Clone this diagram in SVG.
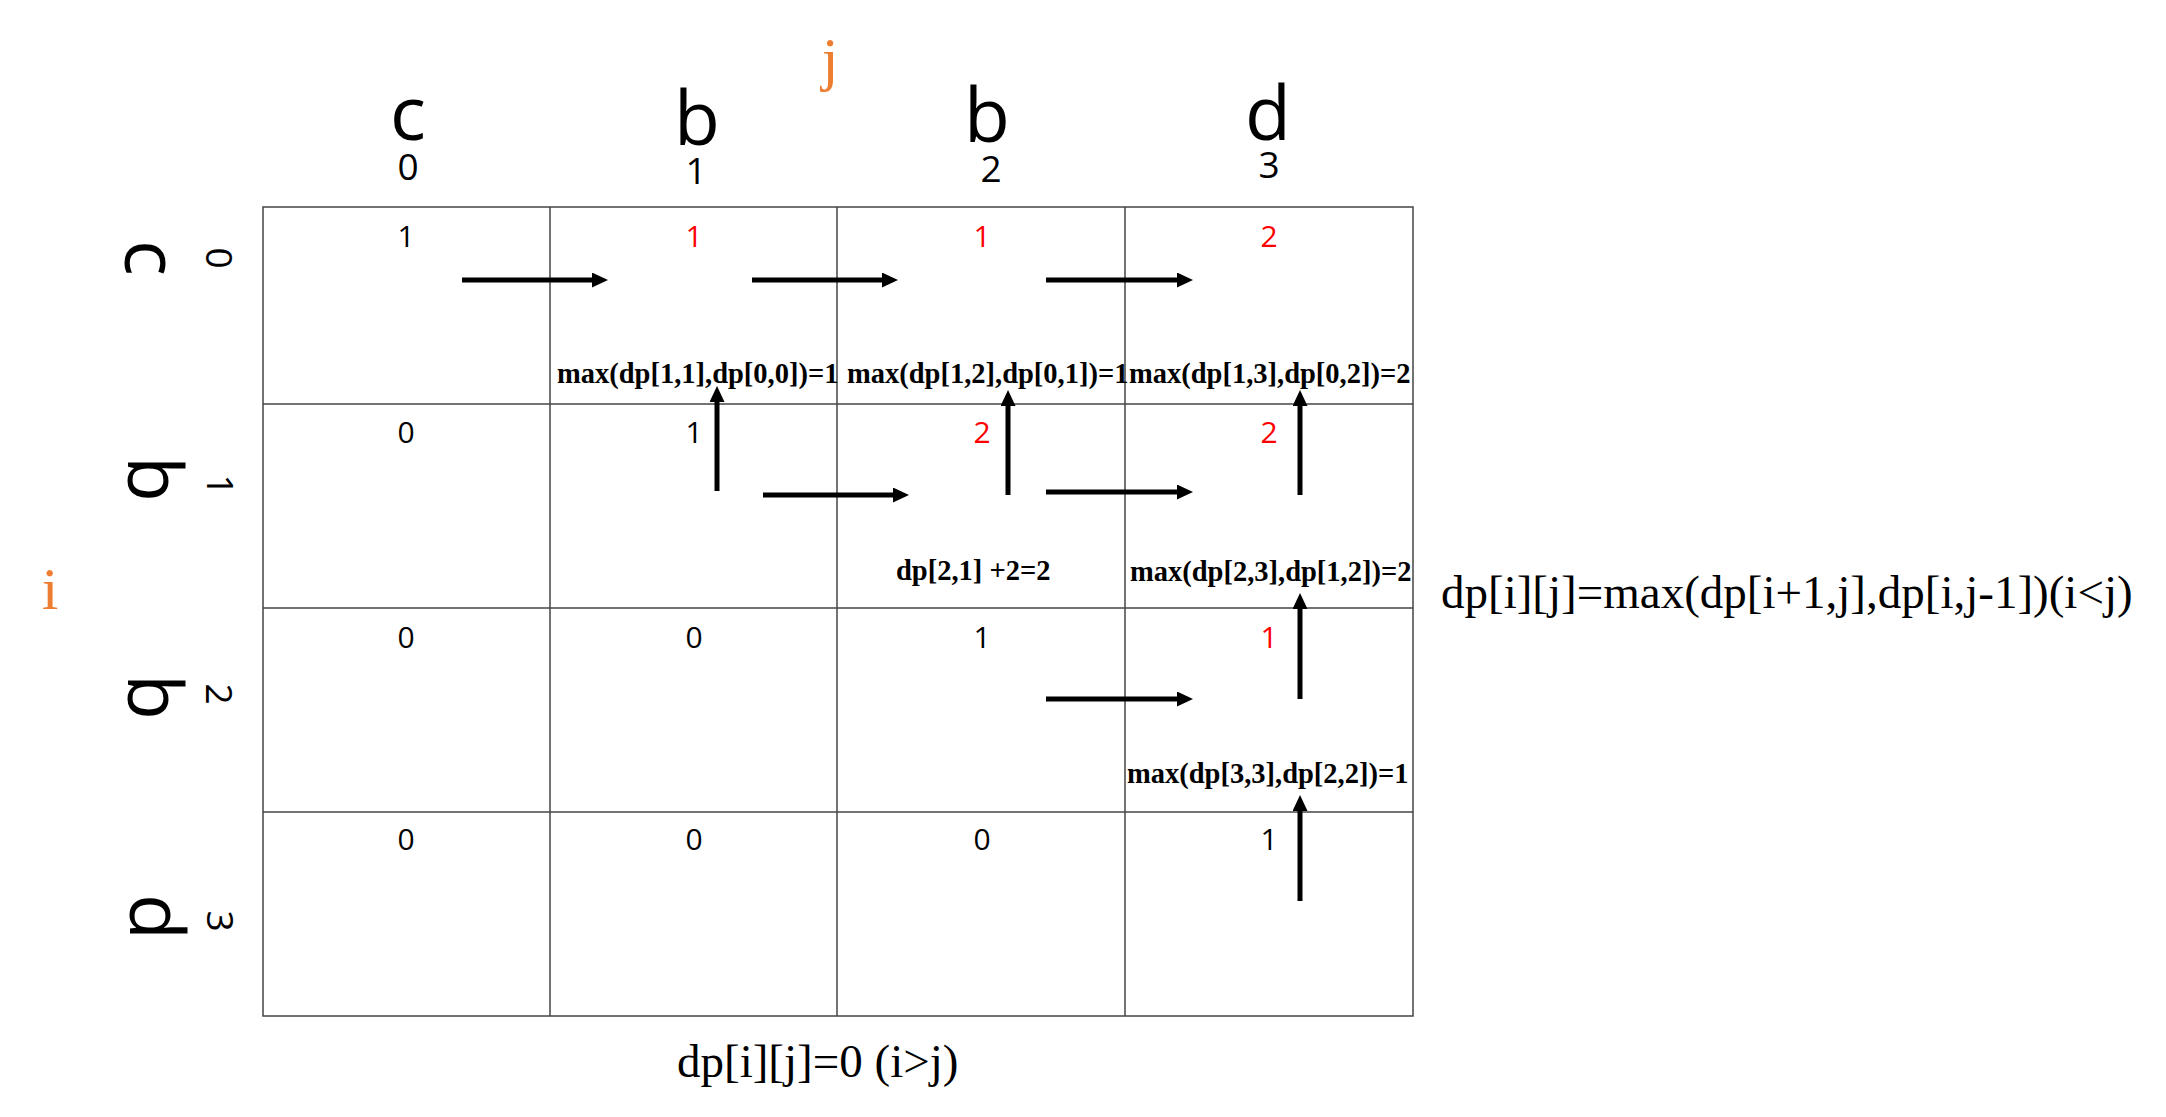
<svg xmlns="http://www.w3.org/2000/svg" width="2166" height="1117" viewBox="0 0 2166 1117">
<style>
.grid{stroke:#444;stroke-width:1.5;fill:none}
.hdr{font-family:"Open Sans","Noto Sans",sans-serif;font-size:75px;fill:#000;text-anchor:middle}
.idx{font-family:"Open Sans","Noto Sans",sans-serif;font-size:37px;fill:#000;text-anchor:middle}
.val{font-family:"Open Sans","Noto Sans",sans-serif;font-size:30px;fill:#000;text-anchor:middle}
.red{fill:#FF0000}
.axis{font-family:"Liberation Serif","Times New Roman",serif;font-size:60px;fill:#ED7D31;text-anchor:middle}
.lbl{font-family:"Liberation Serif","Times New Roman",serif;font-size:28.5px;font-weight:bold;fill:#000}
.eq{font-family:"Liberation Serif","Times New Roman",serif;font-size:47px;fill:#000}
.arr{stroke:#000;stroke-width:5;fill:none;marker-end:url(#ah)}
</style>
<defs>
<marker id="ah" markerUnits="userSpaceOnUse" markerWidth="16" markerHeight="16" refX="4" refY="7.5" orient="auto">
<path d="M0,0 L16,7.5 L0,15 Z" fill="#000"/>
</marker>
</defs>
<rect width="2166" height="1117" fill="#fff"/>

<g id="grid">
<rect class="grid" x="263" y="207" width="1150" height="809"/>
<line class="grid" x1="550" y1="207" x2="550" y2="1016"/>
<line class="grid" x1="837" y1="207" x2="837" y2="1016"/>
<line class="grid" x1="1125" y1="207" x2="1125" y2="1016"/>
<line class="grid" x1="263" y1="404" x2="1413" y2="404"/>
<line class="grid" x1="263" y1="608" x2="1413" y2="608"/>
<line class="grid" x1="263" y1="812" x2="1413" y2="812"/>
</g>

<g id="axis-j"><text class="axis" x="830" y="79">j</text></g>
<g id="axis-i"><text class="axis" x="50" y="609">i</text></g>

<g id="col-headers">
<text class="hdr" x="408" y="140">c</text>
<text class="hdr" x="697" y="145">b</text>
<text class="hdr" x="987" y="142">b</text>
<text class="hdr" x="1268" y="140">d</text>
<text class="idx" x="408" y="180">0</text>
<text class="idx" x="696" y="184">1</text>
<text class="idx" x="991" y="182">2</text>
<text class="idx" x="1269" y="178">3</text>
</g>

<g id="row-headers">
<text class="hdr" transform="translate(125,258) rotate(90)">c</text>
<text class="hdr" transform="translate(128,479) rotate(90)">b</text>
<text class="hdr" transform="translate(128,697) rotate(90)">b</text>
<text class="hdr" transform="translate(130,917) rotate(90)">d</text>
<text class="idx" transform="translate(206,258) rotate(90)">0</text>
<text class="idx" transform="translate(207,485) rotate(90)">1</text>
<text class="idx" transform="translate(206,694) rotate(90)">2</text>
<text class="idx" transform="translate(207,921) rotate(90)">3</text>
</g>

<g id="cells">
<g id="cell-0-0"><text class="val" x="406" y="247">1</text></g>
<g id="cell-0-1"><text class="val red" x="694" y="247">1</text></g>
<g id="cell-0-2"><text class="val red" x="982" y="247">1</text></g>
<g id="cell-0-3"><text class="val red" x="1269" y="247">2</text></g>
<g id="cell-1-0"><text class="val" x="406" y="443">0</text></g>
<g id="cell-1-1"><text class="val" x="694" y="443">1</text></g>
<g id="cell-1-2"><text class="val red" x="982" y="443">2</text></g>
<g id="cell-1-3"><text class="val red" x="1269" y="443">2</text></g>
<g id="cell-2-0"><text class="val" x="406" y="648">0</text></g>
<g id="cell-2-1"><text class="val" x="694" y="648">0</text></g>
<g id="cell-2-2"><text class="val" x="982" y="648">1</text></g>
<g id="cell-2-3"><text class="val red" x="1269" y="648">1</text></g>
<g id="cell-3-0"><text class="val" x="406" y="850">0</text></g>
<g id="cell-3-1"><text class="val" x="694" y="850">0</text></g>
<g id="cell-3-2"><text class="val" x="982" y="850">0</text></g>
<g id="cell-3-3"><text class="val" x="1269" y="850">1</text></g>
</g>

<g id="labels">
<g id="lbl-1"><text class="lbl" x="557" y="383">max(dp[1,1],dp[0,0])=1</text></g>
<g id="lbl-2"><text class="lbl" x="847" y="383">max(dp[1,2],dp[0,1])=1</text></g>
<g id="lbl-3"><text class="lbl" x="1129" y="383">max(dp[1,3],dp[0,2])=2</text></g>
<g id="lbl-4"><text class="lbl" x="896" y="580">dp[2,1] +2=2</text></g>
<g id="lbl-5"><text class="lbl" x="1130" y="581">max(dp[2,3],dp[1,2])=2</text></g>
<g id="lbl-6"><text class="lbl" x="1127" y="783">max(dp[3,3],dp[2,2])=1</text></g>
</g>

<g id="formulas">
<g id="formula-lt"><text class="eq" x="1441" y="608">dp[i][j]=max(dp[i+1,j],dp[i,j-1])(i&lt;j)</text></g>
<g id="formula-gt"><text class="eq" x="677" y="1077">dp[i][j]=0 (i&gt;j)</text></g>
</g>

<g id="connectors">
<line class="arr" x1="462" y1="280" x2="596" y2="280"/>
<line class="arr" x1="752" y1="280" x2="886" y2="280"/>
<line class="arr" x1="1046" y1="280" x2="1181" y2="280"/>
<line class="arr" x1="763" y1="495" x2="897" y2="495"/>
<line class="arr" x1="1046" y1="492" x2="1181" y2="492"/>
<line class="arr" x1="1046" y1="699" x2="1181" y2="699"/>
<line class="arr" x1="717" y1="491" x2="717" y2="398"/>
<line class="arr" x1="1008" y1="495" x2="1008" y2="402"/>
<line class="arr" x1="1300" y1="495" x2="1300" y2="402"/>
<line class="arr" x1="1300" y1="699" x2="1300" y2="605"/>
<line class="arr" x1="1300" y1="901" x2="1300" y2="807"/>
</g>
</svg>
